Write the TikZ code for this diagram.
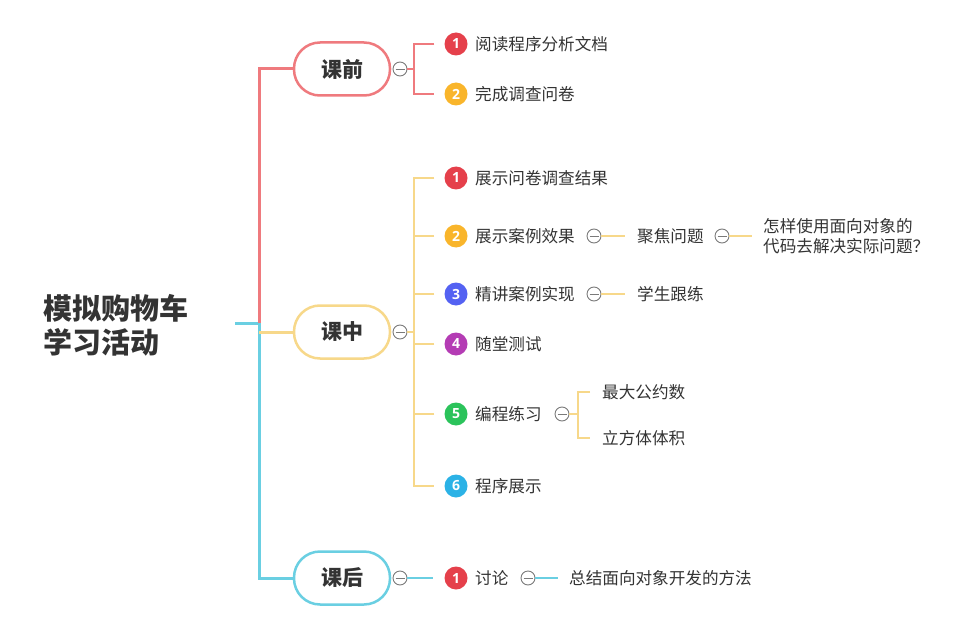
\documentclass[tikz,border=0pt]{standalone}
\usepackage{fontspec}
\setmainfont{Noto Sans CJK SC}
\newfontfamily\numfont{Open Sans}
\definecolor{tred}{HTML}{EF7A7E}
\definecolor{tyel}{HTML}{F7D88A}
\definecolor{tcya}{HTML}{6ACFE2}
\definecolor{txt}{HTML}{333333}
\definecolor{cgrey}{HTML}{7A7A7A}
\definecolor{bred}{HTML}{E5404B}
\definecolor{bora}{HTML}{F9B52B}
\definecolor{bblu}{HTML}{5462F2}
\definecolor{bpur}{HTML}{B43CB4}
\definecolor{bgre}{HTML}{2BC35B}
\definecolor{bsky}{HTML}{2BB2E6}
\begin{document}
\begin{tikzpicture}[x=1pt,y=-1pt,line join=miter,
  rootnode/.style={anchor=west,align=left,inner sep=0pt,text=txt,font=\fontsize{29}{34}\selectfont\bfseries},
  branch/.style={draw=#1,fill=white,line width=2.5pt,rounded corners=26pt,minimum width=96pt,minimum height=53pt,inner sep=0pt,text=txt,font=\fontsize{21}{24}\selectfont\bfseries},
  item/.style={anchor=west,inner sep=0pt,text=txt,font=\fontsize{16.6}{20}\selectfont},
  badge/.style={circle,fill=#1,minimum size=23pt,inner sep=0pt,text=white,font=\numfont\fontsize{14}{14}\selectfont\bfseries},
  collapse/.style={circle,draw=cgrey,fill=white,line width=0.9pt,minimum size=14pt,inner sep=0pt,
    path picture={\draw[cgrey,line width=0.9pt] ([xshift=-4.5pt]path picture bounding box.center) -- ([xshift=4.5pt]path picture bounding box.center);}},
  trunk/.style={line width=3pt,draw=#1},
  twig/.style={line width=2pt,draw=#1}]
\useasboundingbox (0,0) rectangle (971,631);

% root
\node[rootnode] (root) at (43,325) {模拟购物车\\学习活动};
\coordinate (rootend) at (235,323);
\coordinate (junc) at (259,323);
\coordinate (juncz) at (259,332);

% branches
\node[branch=tred] (kq) at (342,69) {课前};
\node[branch=tyel] (kz) at (342,332) {课中};
\node[branch=tcya] (kh) at (342,578) {课后};

\draw[trunk=tcya] (rootend) -- (junc) |- (kh.west);
\draw[trunk=tred] (junc) |- (kq.west);
\draw[trunk=tyel] (juncz) -- (kz.west);

% collapse circles of branches
\node[collapse] (cq) at (400,69) {};
\node[collapse] (cz) at (400,332) {};
\node[collapse] (ch) at (400,578) {};

% 课前 items
\node[badge=bred] (q1) at (456,44) {1};
\node[badge=bora] (q2) at (456,94) {2};
\node[item] (q1t) at (475,44) {阅读程序分析文档};
\node[item] (q2t) at (475,94) {完成调查问卷};
\coordinate (qbr) at (414,69);
\draw[twig=tred] (cq.east) -- (qbr);
\draw[twig=tred] ([xshift=-10pt]q1.west) -| (qbr) |- ([xshift=-10pt]q2.west);

% 课中 items
\node[badge=bred] (z1) at (456,178) {1};
\node[badge=bora] (z2) at (456,236) {2};
\node[badge=bblu] (z3) at (456,294) {3};
\node[badge=bpur] (z4) at (456,344) {4};
\node[badge=bgre] (z5) at (456,414) {5};
\node[badge=bsky] (z6) at (456,486) {6};
\node[item] (z1t) at (475,178) {展示问卷调查结果};
\node[item] (z2t) at (475,236) {展示案例效果};
\node[item] (z3t) at (475,294) {精讲案例实现};
\node[item] (z4t) at (475,344) {随堂测试};
\node[item] (z5t) at (475,414) {编程练习};
\node[item] (z6t) at (475,486) {程序展示};
\coordinate (zbr) at (414,332);
\draw[twig=tyel] (cz.east) -- (zbr);
\draw[twig=tyel] ([xshift=-10pt]z1.west) -| (zbr) |- ([xshift=-10pt]z6.west);
\foreach \n in {z2,z3,z4,z5} \draw[twig=tyel] ([xshift=-10pt]\n.west) -- (\n.west -| zbr);

% item 2 chain
\node[collapse] (c2) at (594,236) {};
\node[item] (jj) at (637,236) {聚焦问题};
\node[collapse] (c2b) at (722,236) {};
\node[item,align=left] (zy) at (763,236) {怎样使用面向对象的\\代码去解决实际问题？};
\draw[twig=tyel] (c2.east) -- ([xshift=-12pt]jj.west);
\draw[twig=tyel] (c2b.east) -- ([xshift=-11pt]zy.west);

% item 3 chain
\node[collapse] (c3) at (594,294) {};
\node[item] (gl) at (637,294) {学生跟练};
\draw[twig=tyel] (c3.east) -- ([xshift=-12pt]gl.west);

% item 5 chain
\node[collapse] (c5) at (562,414) {};
\node[item] (gy) at (602,392) {最大公约数};
\node[item] (tj) at (602,438) {立方体体积};
\coordinate (br5) at (578,414);
\draw[twig=tyel] (c5.east) -- (br5);
\draw[twig=tyel] ([xshift=-12pt]gy.west) -| (br5) |- ([xshift=-12pt]tj.west);

% 课后 items
\node[badge=bred] (h1) at (456,578) {1};
\node[item] (h1t) at (475,578) {讨论};
\draw[twig=tcya] (ch.east) -- ([xshift=-11pt]h1.west);
\node[collapse] (c6) at (528,578) {};
\node[item] (zj) at (569,578) {总结面向对象开发的方法};
\draw[twig=tcya] (c6.east) -- ([xshift=-11pt]zj.west);
\end{tikzpicture}
\end{document}
